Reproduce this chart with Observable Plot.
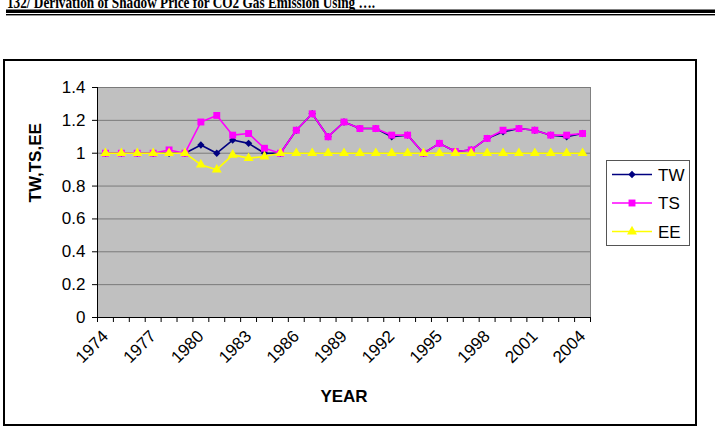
<!DOCTYPE html>
<html>
<head>
<meta charset="utf-8">
<script src="https://cdn.jsdelivr.net/npm/d3@7"></script>
<script src="https://cdn.jsdelivr.net/npm/@observablehq/plot@0.6"></script>
<style>
  html, body { margin: 0; padding: 0; background: #fff; }
  #page { position: relative; width: 715px; height: 432px; overflow: hidden; font-family: "Liberation Sans", Arial, sans-serif; }
  #header { position: absolute; left: 0; top: 0; }
  #box { position: absolute; left: 3px; top: 59px; width: 690px; height: 363px; border: 2px solid #000; }
  #chart { position: absolute; left: 0; top: 0; }
  #legend { position: absolute; left: 0; top: 0; }
</style>
</head>
<body>
<div id="page">
  <svg id="header" width="715" height="24"></svg>
  <div id="box"></div>
  <div id="chart"></div>
  <svg id="legend" width="715" height="432"></svg>
</div>
<script>
// Years on the category axis
const years = [1974, 1975, 1976, 1977, 1978, 1979, 1980, 1981, 1982, 1983,
               1984, 1985, 1986, 1987, 1988, 1989, 1990, 1991, 1992, 1993,
               1994, 1995, 1996, 1997, 1998, 1999, 2000, 2001, 2002, 2003, 2004];

// Index series
const tw = [1.00, 1.00, 1.00, 1.00, 1.00, 1.00, 1.05, 1.00, 1.08, 1.06,
            1.00, 1.00, 1.14, 1.24, 1.10, 1.19, 1.15, 1.15, 1.10, 1.11,
            1.00, 1.06, 1.01, 1.02, 1.09, 1.13, 1.15, 1.14, 1.11, 1.10, 1.12];
const ts = [1.00, 1.00, 1.00, 1.00, 1.02, 1.00, 1.19, 1.23, 1.11, 1.12,
            1.03, 1.00, 1.14, 1.24, 1.10, 1.19, 1.15, 1.15, 1.11, 1.11,
            1.00, 1.06, 1.01, 1.02, 1.09, 1.14, 1.15, 1.14, 1.11, 1.11, 1.12];
const ee = [1.00, 1.00, 1.00, 1.00, 1.00, 1.00, 0.93, 0.90, 0.99, 0.97,
            0.98, 1.00, 1.00, 1.00, 1.00, 1.00, 1.00, 1.00, 1.00, 1.00,
            1.00, 1.00, 1.00, 1.00, 1.00, 1.00, 1.00, 1.00, 1.00, 1.00, 1.00];

// Axis ticks and labels
const yTicks = [0, 0.2, 0.4, 0.6, 0.8, 1, 1.2, 1.4];
const xLabelYears = [1974, 1977, 1980, 1983, 1986, 1989, 1992, 1995, 1998, 2001, 2004];

const seriesNames = ["TW", "TS", "EE"];
const seriesValues = [tw, ts, ee];
const seriesColors = ["#000080", "#ff00ff", "#ffff00"];
const seriesSymbols = ["diamond2", "square", "triangle"];
const seriesRadius = [3.3, 3.9, 3.7];

const font = "'Liberation Sans', Arial, sans-serif";
const fs = 17;

// Running header with double rule
const header = d3.select("#header");
header.append("text")
  .attr("x", 7).attr("y", 8)
  .attr("font-family", "'Liberation Serif', 'Times New Roman', serif")
  .attr("font-weight", "bold")
  .attr("font-size", 17)
  .attr("textLength", 368)
  .attr("lengthAdjust", "spacingAndGlyphs")
  .text("132/ Derivation of Shadow Price for CO2 Gas Emission Using ….");
header.append("rect").attr("x", 6).attr("y", 9.5).attr("width", 709).attr("height", 3.5).attr("fill", "#000");
header.append("rect").attr("x", 6).attr("y", 14).attr("width", 709).attr("height", 1.4).attr("fill", "#000");

// Category boundaries carry the tick marks
const boundaries = years.map(y => y - 0.5).concat([years[years.length - 1] + 0.5]);

const rowsFor = (vals, name) => years.map((year, i) => ({year, value: vals[i], series: name}));

const seriesMarks = seriesNames.flatMap((name, k) => {
  const rows = rowsFor(seriesValues[k], name);
  return [
    Plot.line(rows, {x: "year", y: "value", stroke: seriesColors[k], strokeWidth: 1.6}),
    Plot.dot(rows, {x: "year", y: "value", symbol: () => seriesSymbols[k], fill: seriesColors[k], stroke: "none", r: seriesRadius[k]})
  ];
});

const chart = Plot.plot({
  width: 715,
  height: 432,
  marginLeft: 97,
  marginRight: 125,
  marginTop: 87,
  marginBottom: 115,
  style: {fontFamily: font, fontSize: fs + "px", background: "transparent", color: "#000"},
  x: {domain: [boundaries[0], boundaries[boundaries.length - 1]], axis: null},
  y: {domain: [0, 1.4], axis: null},
  symbol: {type: "identity"},
  marks: [
    Plot.frame({fill: "#c0c0c0", stroke: "#808080"}),
    Plot.gridY(yTicks.slice(1), {stroke: "#7a7a7a", strokeOpacity: 1}),
    Plot.ruleX([boundaries[0]], {stroke: "#000"}),
    Plot.ruleY([0], {stroke: "#000"}),
    Plot.axisY(yTicks, {tickSize: 5, tickPadding: 7, fontSize: fs, label: null, tickFormat: d => String(d), stroke: "#000"}),
    Plot.axisX(boundaries, {tickSize: 5, tickFormat: () => "", label: null, stroke: "#000"}),
    Plot.axisX(xLabelYears, {tickSize: 0, tickPadding: 16, tickRotate: -45, fontSize: fs, label: null, tickFormat: d => String(d)}),
    Plot.text(["TW,TS,EE"], {text: d => d, frameAnchor: "left", dx: -62, rotate: -90, fontWeight: "bold", fontSize: fs}),
    Plot.text(["YEAR"], {text: d => d, frameAnchor: "bottom", dy: 84, fontWeight: "bold", fontSize: fs}),
    ...seriesMarks
  ]
});
document.getElementById("chart").appendChild(chart);

// Legend box
const legend = d3.select("#legend");
legend.append("rect")
  .attr("x", 606.5).attr("y", 160.5).attr("width", 83).attr("height", 85)
  .attr("fill", "#fff").attr("stroke", "#555").attr("stroke-width", 1);
const d3Symbols = {diamond2: d3.symbolDiamond2, square: d3.symbolSquare, triangle: d3.symbolTriangle};
seriesNames.forEach((name, k) => {
  const cy = 174.5 + k * 28.5;
  const g = legend.append("g");
  g.append("line").attr("x1", 612).attr("x2", 652).attr("y1", cy).attr("y2", cy)
    .attr("stroke", seriesColors[k]).attr("stroke-width", 1.6);
  g.append("path")
    .attr("transform", `translate(632,${cy})`)
    .attr("d", d3.symbol(d3Symbols[seriesSymbols[k]], Math.PI * seriesRadius[k] ** 2)())
    .attr("fill", seriesColors[k]);
  g.append("text").attr("x", 658).attr("y", cy).attr("dy", "0.36em")
    .attr("font-family", font).attr("font-size", fs).text(name);
});
</script>
</body>
</html>
